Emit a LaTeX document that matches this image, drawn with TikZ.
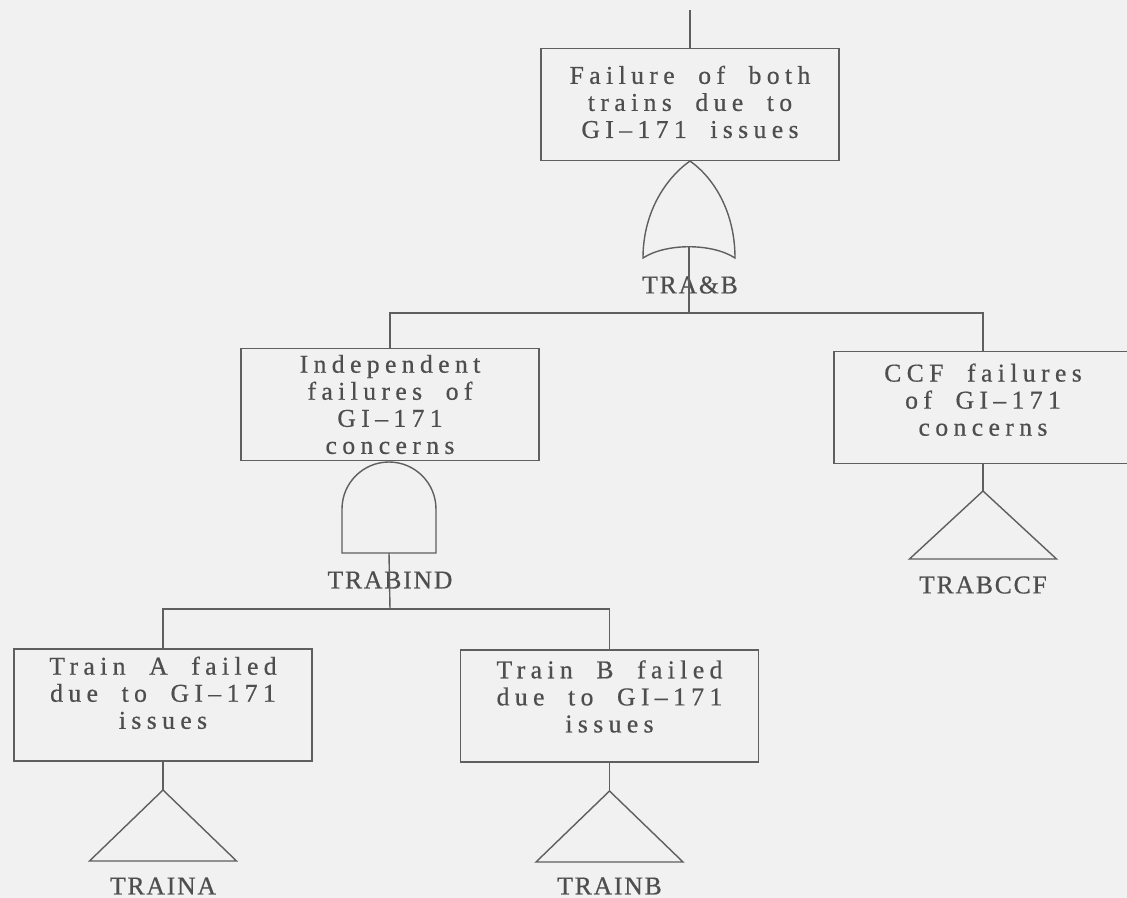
\documentclass[tikz,border=0pt]{standalone}
\usepackage{fontspec}
\newfontfamily\boxfamily{Liberation Serif}[LetterSpace=21,WordSpace=2,FakeBold=0.6]
\newfontfamily\tagfamily{Liberation Serif}[LetterSpace=7,FakeBold=0.6]
\definecolor{linegray}{RGB}{95,95,95}
\definecolor{textgray}{RGB}{78,78,78}
\definecolor{paper}{RGB}{241,241,241}
\newcommand{\treefont}{\boxfamily\fontsize{14.6pt}{15.4pt}\selectfont}
\newcommand{\tagfont}{\tagfamily\fontsize{14.6pt}{15.4pt}\selectfont}
% extra depth on the last line pushes a box's text upward
\newcommand{\textlift}[1]{\rule[-#1]{0pt}{0pt}}
\newcommand{\gi}{GI\textendash171}
\begin{document}
\begin{tikzpicture}[x=0.02cm,y=-0.02cm,
  ln/.style={draw=linegray,line width=0.8pt},
  evbox/.style={ln,rectangle,minimum width=5.96cm,minimum height=2.24cm,
    inner sep=0pt,align=center,text=textgray,font=\treefont},
  tag/.style={text=textgray,font=\tagfont,inner sep=0pt},
]
\useasboundingbox[fill=paper] (0,0) rectangle (1127,898);

% event boxes
\node[evbox] (top)    at (690,104.5) {Failure of both\\trains due to\\\gi{} issues\textlift{3pt}};
\node[evbox] (indep)  at (390,404.5) {Independent\\failures of\\\gi\\concerns};
\node[evbox] (ccf)    at (983,407.5) {CCF failures\\of \gi\\concerns\textlift{9pt}};
\node[evbox] (trainA) at (163,705)   {Train A failed\\due to \gi\\issues\textlift{14pt}};
\node[evbox] (trainB) at (609.5,706) {Train B failed\\due to \gi\\issues\textlift{11pt}};

% OR gate under the top event
\coordinate (orTop) at (690,161);
\coordinate (orOut) at (689,247);
\draw[ln] (643,258) .. controls (643,212) and (666,178) .. (orTop)
  .. controls (714,178) and (735,212) .. (735,258)
  .. controls (712,243) and (666,243) .. (643,258) -- cycle;
\node[tag] (orLab) at (690,285) {TRA\&B};

% AND gate under the independent failures
\coordinate (andOut) at (389,553);
\draw[ln] (342,553) -- (342,509) arc[start angle=180,end angle=0,radius=0.94cm]
  -- (436,553) -- cycle;
\node[tag] (andLab) at (390,580) {TRABIND};

% transfer triangles
\coordinate (triA) at (163,790);
\coordinate (triB) at (609.5,791);
\coordinate (triC) at (983,491);
\draw[ln] (triA) -- ++(-73.5,71) -- ++(147,0) -- cycle;
\draw[ln] (triB) -- ++(-73.5,71) -- ++(147,0) -- cycle;
\draw[ln] (triC) -- ++(-73.5,68) -- ++(147,0) -- cycle;
\node[tag] (labA) at (163,886) {TRAINA};
\node[tag] (labB) at (609.5,886) {TRAINB};
\node[tag] (labC) at (983,585) {TRABCCF};

% connectors
\coordinate (topIn) at (690,10);
\coordinate (bar1) at (689,313);
\coordinate (bar2) at (390,609);
\draw[ln] (topIn) -- (top.north);
\draw[ln] (orOut) -- (bar1);
\draw[ln] (indep.north) |- (bar1) -| (ccf.north);
\draw[ln] (andOut) -- (bar2);
\draw[ln] (trainA.north) |- (bar2) -| (trainB.north);
\draw[ln] (trainA.south) -- (triA);
\draw[ln] (trainB.south) -- (triB);
\draw[ln] (ccf.south) -- (triC);
\end{tikzpicture}
\end{document}
